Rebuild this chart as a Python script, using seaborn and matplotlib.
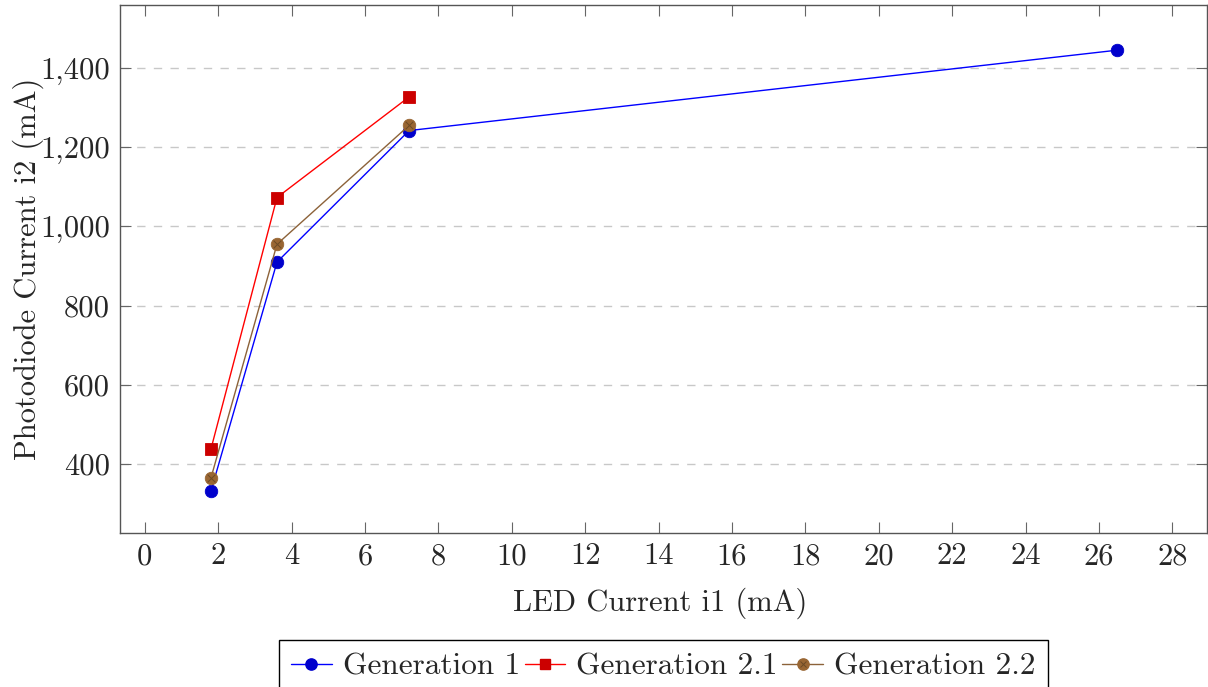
import matplotlib
matplotlib.use("Agg")
import matplotlib.pyplot as plt
from matplotlib.lines import Line2D
from matplotlib.legend_handler import HandlerTuple
from matplotlib.ticker import FixedLocator, FuncFormatter
import seaborn as sns
import pandas as pd

# LED drive current (mA) and measured photodiode current per generation
gen1_i1 = [1.8, 3.6, 7.2, 26.5]
gen1_i2 = [332, 910, 1242, 1445]
gen21_i1 = [1.8, 3.6, 7.2]
gen21_i2 = [438, 1073, 1327]
gen22_i1 = [1.8, 3.6, 7.2]
gen22_i2 = [365, 955, 1255]

series_names = ["Generation 1", "Generation 2.1", "Generation 2.2"]
x_ticks = list(range(0, 30, 2))
y_ticks = [400, 600, 800, 1000, 1200, 1400]

FS = 22

sns.set_style("ticks")
plt.rcParams["font.family"] = ["cmr10", "DejaVu Serif"]
plt.rcParams["mathtext.fontset"] = "cm"
plt.rcParams["axes.formatter.use_mathtext"] = True
plt.rcParams["font.size"] = FS

frames = []
for name, xs, ys in zip(series_names,
                        [gen1_i1, gen21_i1, gen22_i1],
                        [gen1_i2, gen21_i2, gen22_i2]):
    frames.append(pd.DataFrame({"i1": xs, "i2": ys, "series": name}))
df = pd.concat(frames, ignore_index=True)

styles = {
    "Generation 1": dict(line="#0000FF", face="#0000CC", marker="o", ms=9),
    "Generation 2.1": dict(line="#FF0000", face="#CC0000", marker="s", ms=8.5),
    "Generation 2.2": dict(line="#8C6239", face="#996633", marker="o", ms=9),
}

fig = plt.figure(figsize=(12.08, 6.87), dpi=100)
ax = fig.add_axes([0.0993, 0.2242, 0.9, 0.7685])

handles = []
for name in series_names:
    st = styles[name]
    sub = df[df["series"] == name]
    sns.lineplot(data=sub, x="i1", y="i2", ax=ax, sort=False,
                 color=st["line"], linewidth=1.0, marker=st["marker"],
                 markersize=st["ms"], markerfacecolor=st["face"],
                 markeredgecolor=st["face"], markeredgewidth=0.6,
                 label=name, legend=False, zorder=3)
    h = Line2D([], [], color=st["line"], lw=1.0, marker=st["marker"],
               markersize=st["ms"] * 0.9, markerfacecolor=st["face"],
               markeredgecolor=st["face"])
    if name == "Generation 2.2":
        # crossed circle marker: overlay an x on the filled circle
        ax.scatter(sub["i1"], sub["i2"], marker="x", s=30, color="#6b4a26",
                   linewidths=0.7, zorder=4)
        hx = Line2D([], [], linestyle="none", marker="x", markersize=5,
                    markeredgecolor="#6b4a26", markeredgewidth=0.7)
        h = (h, hx)
    handles.append(h)

ax.set_xlim(-0.68, 28.95)
ax.set_ylim(226, 1559)
ax.xaxis.set_major_locator(FixedLocator(x_ticks))
ax.yaxis.set_major_locator(FixedLocator(y_ticks))
ax.yaxis.set_major_formatter(FuncFormatter(lambda v, p: f"{int(v):,}"))
ax.xaxis.set_major_formatter(FuncFormatter(lambda v, p: f"{int(v)}"))

ax.grid(axis="y", color="#c8c8c8", linestyle=(0, (6, 6)), linewidth=1.0)
ax.grid(axis="x", visible=False)
ax.set_axisbelow(True)

for sp in ax.spines.values():
    sp.set_visible(True)
    sp.set_color("#555555")
    sp.set_linewidth(1.0)
ax.tick_params(direction="in", length=8, width=0.8, color="#666666",
               top=True, right=True, labelsize=FS, pad=7)

ax.set_xlabel("LED Current i1 (mA)", fontsize=FS)
ax.xaxis.set_label_coords(0.497, -0.104)
ax.set_ylabel("Photodiode Current i2 (mA)", fontsize=FS)
ax.yaxis.set_label_coords(-0.07, 0.5)

fig.legend(handles, series_names, loc="upper center",
           bbox_to_anchor=(0.549, 0.0684), ncol=3, frameon=True,
           fancybox=False, edgecolor="black", framealpha=1,
           fontsize=22.5, handlelength=1.3, handletextpad=0.35,
           columnspacing=0.15, borderpad=0.4, borderaxespad=0,
           handler_map={tuple: HandlerTuple(ndivide=1)})

fig.savefig("out.png", dpi=100)
